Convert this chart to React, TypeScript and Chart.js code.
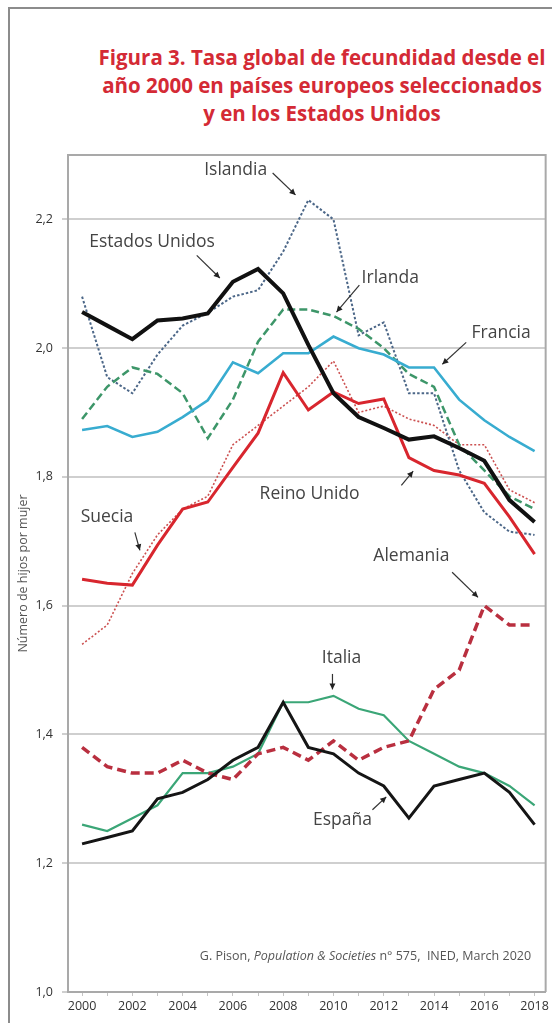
import React, { useEffect, useRef } from 'react';
import { Chart, registerables } from 'chart.js';

Chart.register(...registerables);

// ---------- data ----------
const years = [2000, 2001, 2002, 2003, 2004, 2005, 2006, 2007, 2008, 2009, 2010, 2011, 2012, 2013, 2014, 2015, 2016, 2017, 2018];
const estadosUnidos = [2.056, 2.035, 2.014, 2.043, 2.046, 2.054, 2.103, 2.123, 2.085, 2.005, 1.93, 1.893, 1.876, 1.858, 1.863, 1.845, 1.825, 1.764, 1.73];
const espana = [1.23, 1.24, 1.25, 1.30, 1.31, 1.33, 1.36, 1.38, 1.45, 1.38, 1.37, 1.34, 1.32, 1.27, 1.32, 1.33, 1.34, 1.31, 1.26];
const reinoUnido = [1.641, 1.635, 1.632, 1.694, 1.75, 1.761, 1.815, 1.868, 1.962, 1.904, 1.932, 1.914, 1.921, 1.83, 1.81, 1.803, 1.79, 1.738, 1.68];
const francia = [1.873, 1.879, 1.862, 1.87, 1.893, 1.919, 1.978, 1.961, 1.992, 1.992, 2.018, 2.0, 1.99, 1.97, 1.97, 1.92, 1.888, 1.862, 1.84];
const italia = [1.26, 1.25, 1.27, 1.29, 1.34, 1.34, 1.35, 1.37, 1.45, 1.45, 1.46, 1.44, 1.43, 1.39, 1.37, 1.35, 1.34, 1.32, 1.29];
const alemania = [1.38, 1.35, 1.34, 1.34, 1.36, 1.34, 1.33, 1.37, 1.38, 1.36, 1.39, 1.36, 1.38, 1.39, 1.47, 1.50, 1.60, 1.57, 1.57];
const irlanda = [1.89, 1.94, 1.97, 1.96, 1.93, 1.86, 1.92, 2.01, 2.06, 2.06, 2.05, 2.03, 2.0, 1.96, 1.94, 1.85, 1.81, 1.77, 1.75];
const islandia = [2.08, 1.955, 1.93, 1.99, 2.035, 2.055, 2.08, 2.09, 2.15, 2.23, 2.2, 2.02, 2.04, 1.93, 1.93, 1.81, 1.745, 1.715, 1.71];
const suecia = [1.54, 1.57, 1.65, 1.71, 1.75, 1.77, 1.85, 1.88, 1.91, 1.94, 1.98, 1.90, 1.91, 1.89, 1.88, 1.85, 1.85, 1.78, 1.76];

const yTicks = [1.0, 1.2, 1.4, 1.6, 1.8, 2.0, 2.2];
const xLabelYears = [2000, 2002, 2004, 2006, 2008, 2010, 2012, 2014, 2016, 2018];

const titleLines = [
  'Figura 3. Tasa global de fecundidad desde el',
  'año 2000 en países europeos seleccionados',
  'y en los Estados Unidos',
];
const yAxisTitle = 'Número de hijos por mujer';

// ---------- annotations (label text, anchor in data units, arrow in data units) ----------
const labelTexts = ['Islandia', 'Estados Unidos', 'Irlanda', 'Francia', 'Reino Unido', 'Suecia', 'Alemania', 'Italia', 'España'];
const labelAnchors: [number, number][] = [
  [2006.11, 2.276], [2002.78, 2.165], [2012.26, 2.109], [2016.67, 2.023], [2009.05, 1.773],
  [2000.99, 1.738], [2013.1, 1.677], [2010.32, 1.519], [2010.36, 1.267],
];
const arrowStarts: [number, number][] = [
  [2007.58, 2.272], [2004.56, 2.144], [2011.03, 2.098], [2015.28, 2.009], [2012.7, 1.787],
  [2002.1, 1.714], [2014.72, 1.652], [2009.96, 1.494], [2011.55, 1.283],
];
const arrowEnds: [number, number][] = [
  [2008.49, 2.238], [2005.48, 2.109], [2010.12, 2.056], [2014.33, 1.975], [2013.17, 1.809],
  [2002.3, 1.686], [2015.75, 1.613], [2009.96, 1.47], [2012.1, 1.303],
];

const sourceParts = [
  { text: 'G. Pison, ', italic: false },
  { text: 'Population & Societies', italic: true },
  { text: ' n° 575,  INED, March 2020', italic: false },
];

const FONT = '"Open Sans", "DejaVu Sans", sans-serif';

const toPoints = (vals: number[]) => years.map((x, i) => ({ x, y: vals[i] }));

const annotationPlugin = {
  id: 'annotations',
  afterDatasetsDraw(chart: any) {
    const { ctx, scales, chartArea } = chart;
    const xs = scales.x;
    const ys = scales.y;
    ctx.save();
    // frame (top and right)
    ctx.strokeStyle = '#a9a9a9';
    ctx.lineWidth = 2;
    ctx.beginPath();
    ctx.moveTo(chartArea.left, chartArea.top);
    ctx.lineTo(chartArea.right, chartArea.top);
    ctx.lineTo(chartArea.right, chartArea.bottom);
    ctx.stroke();

    // labels
    ctx.fillStyle = '#444444';
    ctx.font = `17.5px ${FONT}`;
    ctx.textAlign = 'center';
    ctx.textBaseline = 'middle';
    labelTexts.forEach((t, i) => {
      ctx.fillText(t, xs.getPixelForValue(labelAnchors[i][0]), ys.getPixelForValue(labelAnchors[i][1]));
    });
    // arrows
    ctx.strokeStyle = '#333';
    ctx.fillStyle = '#222';
    ctx.lineWidth = 1.2;
    arrowStarts.forEach((s, i) => {
      const x1 = xs.getPixelForValue(s[0]);
      const y1 = ys.getPixelForValue(s[1]);
      const x2 = xs.getPixelForValue(arrowEnds[i][0]);
      const y2 = ys.getPixelForValue(arrowEnds[i][1]);
      ctx.beginPath();
      ctx.moveTo(x1, y1);
      ctx.lineTo(x2, y2);
      ctx.stroke();
      const a = Math.atan2(y2 - y1, x2 - x1);
      const L = 6;
      const W = 3;
      ctx.beginPath();
      ctx.moveTo(x2, y2);
      ctx.lineTo(x2 - L * Math.cos(a) + W * Math.sin(a), y2 - L * Math.sin(a) - W * Math.cos(a));
      ctx.lineTo(x2 - L * Math.cos(a) - W * Math.sin(a), y2 - L * Math.sin(a) + W * Math.cos(a));
      ctx.closePath();
      ctx.fill();
    });

    // source
    ctx.fillStyle = '#555';
    ctx.textAlign = 'left';
    const fontFor = (it: boolean) => `${it ? 'italic ' : ''}12.5px ${FONT}`;
    let total = 0;
    sourceParts.forEach((p) => {
      ctx.font = fontFor(p.italic);
      total += ctx.measureText(p.text).width;
    });
    let x = xs.getPixelForValue(2017.86) - total;
    const y = ys.getPixelForValue(1.056);
    sourceParts.forEach((p) => {
      ctx.font = fontFor(p.italic);
      ctx.fillText(p.text, x, y);
      x += ctx.measureText(p.text).width;
    });
    ctx.restore();
  },
};

export default function App() {
  const ref = useRef<HTMLCanvasElement | null>(null);

  useEffect(() => {
    if (!ref.current) return;
    const mk = (label: string, vals: number[], color: string, width: number, dash: number[] = []) => ({
      label,
      data: toPoints(vals),
      borderColor: color,
      backgroundColor: color,
      borderWidth: width,
      borderDash: dash,
      pointRadius: 0,
      tension: 0,
      fill: false,
      borderCapStyle: 'butt' as const,
      borderJoinStyle: 'miter' as const,
    });
    const chart = new Chart(ref.current, {
      type: 'line',
      data: {
        datasets: [
          mk('Estados Unidos', estadosUnidos, '#111111', 4),
          mk('España', espana, '#151515', 3),
          mk('Reino Unido', reinoUnido, '#d8262e', 3),
          mk('Alemania', alemania, '#b92f3f', 3.5, [9, 5]),
          mk('Italia', italia, '#3ba677', 2.2),
          mk('Francia', francia, '#38acd0', 2.6),
          mk('Irlanda', irlanda, '#3d9669', 2.5, [8, 4]),
          mk('Islandia', islandia, '#4c6788', 2, [2.5, 2]),
          mk('Suecia', suecia, '#cc5050', 1.6, [2, 2]),
        ],
      },
      options: {
        responsive: false,
        animation: false,
        events: [],
        layout: { padding: { left: 8, top: 155, right: 5, bottom: 5 } },
        plugins: {
          legend: { display: false },
          tooltip: { enabled: false },
          title: { display: false },
        },
        scales: {
          x: {
            type: 'linear',
            min: 1999.44,
            max: 2018.44,
            afterFit: (s: any) => { s.height = 26; },
            afterBuildTicks: (s: any) => { s.ticks = years.map((v) => ({ value: v })); },
            grid: { drawOnChartArea: false, drawTicks: true, tickLength: 4, color: '#c4c4c4', lineWidth: 1 },
            border: { display: true, color: '#a9a9a9', width: 2 },
            ticks: {
              autoSkip: false,
              maxRotation: 0,
              padding: 3,
              color: '#333',
              font: { family: FONT, size: 12.5 },
              callback: (v: any) => (xLabelYears.includes(Number(v)) ? String(v) : ''),
            },
          },
          y: {
            type: 'linear',
            min: 1.0,
            max: 2.3,
            afterFit: (s: any) => { s.width = 60; },
            afterBuildTicks: (s: any) => { s.ticks = yTicks.map((v) => ({ value: v })); },
            grid: { color: '#cfcfcf', lineWidth: 2, tickLength: 6, drawTicks: true },
            border: { display: true, color: '#a9a9a9', width: 2 },
            ticks: {
              padding: 9,
              color: '#333',
              font: { family: FONT, size: 12.5 },
              callback: (v: any) => Number(v).toFixed(1).replace('.', ','),
            },
            title: {
              display: true,
              text: yAxisTitle,
              color: '#555',
              font: { family: FONT, size: 12.5 },
              padding: { top: 8, bottom: 0 },
            },
          },
        },
      },
      plugins: [annotationPlugin],
    } as any);
    return () => chart.destroy();
  }, []);

  return (
    <div style={{ position: 'absolute', left: 0, top: 0, width: 552, height: 1023, overflow: 'hidden', background: '#fff' }}>
      <div
        style={{
          position: 'absolute',
          left: 8,
          top: 7,
          width: 700,
          height: 1100,
          borderLeft: '2px solid #8c8c8c',
          borderTop: '2px solid #8c8c8c',
        }}
      />
      <div
        style={{
          position: 'absolute',
          left: 92,
          width: 460,
          top: 43,
          textAlign: 'center',
          color: '#d42a35',
          fontFamily: FONT,
          fontWeight: 700,
          fontSize: 20.5,
          lineHeight: '28px',
          whiteSpace: 'nowrap',
        }}
      >
        {titleLines.map((l, i) => (
          <div key={i}>{l}</div>
        ))}
      </div>
      <canvas ref={ref} width={552} height={1023} style={{ position: 'absolute', left: 0, top: 0, width: 552, height: 1023 }} />
    </div>
  );
}
